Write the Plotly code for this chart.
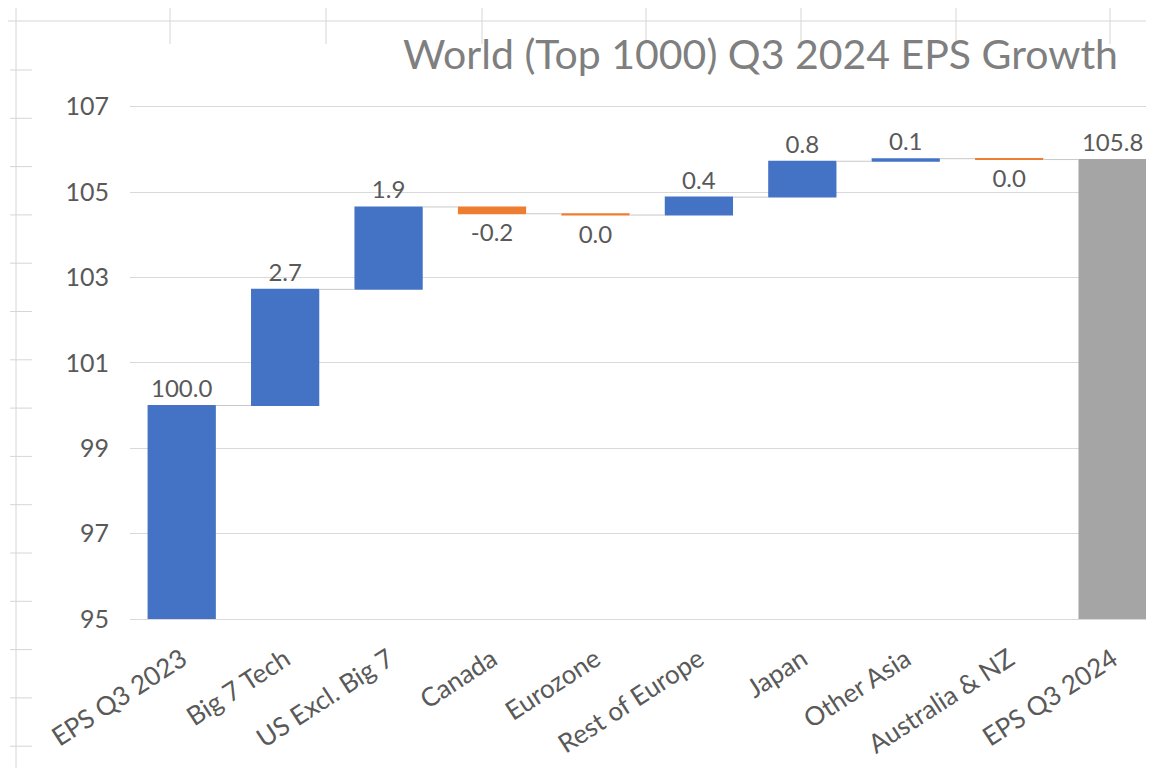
import plotly.graph_objects as go

# ---- data ----
categories = ["EPS Q3 2023", "Big 7 Tech", "US Excl. Big 7", "Canada", "Eurozone",
              "Rest of Europe", "Japan", "Other Asia", "Australia & NZ", "EPS Q3 2024"]
start_value = 100.0
contributions = [2.72, 1.93, -0.16, -0.03, 0.42, 0.84, 0.06, -0.02]
title_text = "World (Top 1000) Q3 2024 EPS Growth"
y_ticks = [95, 97, 99, 101, 103, 105, 107]

end_value = start_value + sum(contributions)
values = [start_value] + contributions + [end_value]
measures = ["relative"] * (1 + len(contributions)) + ["total"]


def fmt(v):
    s = f"{v:.1f}"
    return "0.0" if s == "-0.0" else s


labels = [fmt(v) for v in values]

# ---- layout geometry (page has an 8px body margin) ----
OFF = 8
W, H = 1154 - OFF, 768 - OFF
L, R, T = 130 - OFF, 0, 80 - OFF
B = H - (619 - OFF)
FONT = "Lato, 'Open Sans', sans-serif"
TXT = "#595959"

fig = go.Figure(go.Waterfall(
    x=categories,
    y=values,
    measure=measures,
    text=labels,
    textposition="outside",
    textfont=dict(family=FONT, size=24, color=TXT),
    increasing=dict(marker=dict(color="#4472C4")),
    decreasing=dict(marker=dict(color="#ED7D31")),
    totals=dict(marker=dict(color="#A5A5A5")),
    connector=dict(line=dict(color="#c8c8c8", width=1)),
    cliponaxis=False,
    hoverinfo="skip",
))


def px(x):  # page pixel -> paper
    return (x - OFF - L) / (W - L - R)


def py(y):
    return ((H - B) - (y - OFF)) / (H - T - B)


shapes = []
line_col = "#d6d6d6"
# spreadsheet background lines
shapes.append(dict(type="line", xref="paper", yref="paper", x0=px(8), x1=px(1154), y0=py(21), y1=py(21),
                   line=dict(color=line_col, width=1), layer="below"))
shapes.append(dict(type="line", xref="paper", yref="paper", x0=px(16), x1=px(16), y0=py(8), y1=py(768),
                   line=dict(color=line_col, width=1), layer="below"))
for xx in [170, 326, 482, 646, 801, 956, 1110]:
    shapes.append(dict(type="line", xref="paper", yref="paper", x0=px(xx), x1=px(xx), y0=py(8), y1=py(44),
                       line=dict(color=line_col, width=1), layer="below"))
yy = 70.0
while yy < 768:
    shapes.append(dict(type="line", xref="paper", yref="paper", x0=px(10), x1=px(32), y0=py(yy), y1=py(yy),
                       line=dict(color=line_col, width=1), layer="below"))
    yy += 48.3

fig.update_layout(
    width=W, height=H,
    margin=dict(l=L, r=R, t=T, b=B, pad=0),
    paper_bgcolor="white", plot_bgcolor="white",
    showlegend=False,
    waterfallgap=0.34,
    title=dict(text=title_text, x=(1118 - OFF) / W, xanchor="right", y=1 - (55 - OFF) / H, yanchor="middle",
               xref="container", yref="container",
               font=dict(family=FONT, size=41, color="#7f7f7f")),
    font=dict(family=FONT, color=TXT),
    shapes=shapes,
)
fig.update_xaxes(
    range=[-0.5, 9.4],
    tickangle=-33,
    tickfont=dict(family=FONT, size=26, color=TXT),
    showgrid=False, showline=True, linecolor="#d9d9d9", linewidth=1, ticks="",
    ticklabelstandoff=14,
)
fig.update_yaxes(
    range=[95, 95 + (H - B - T) / 42.7],
    tickvals=y_ticks,
    tickfont=dict(family=FONT, size=25, color=TXT),
    showgrid=True, gridcolor="#d9d9d9", gridwidth=1,
    zeroline=False, showline=False, ticks="",
    ticklabelstandoff=20,
)

fig.write_html("out.html")
